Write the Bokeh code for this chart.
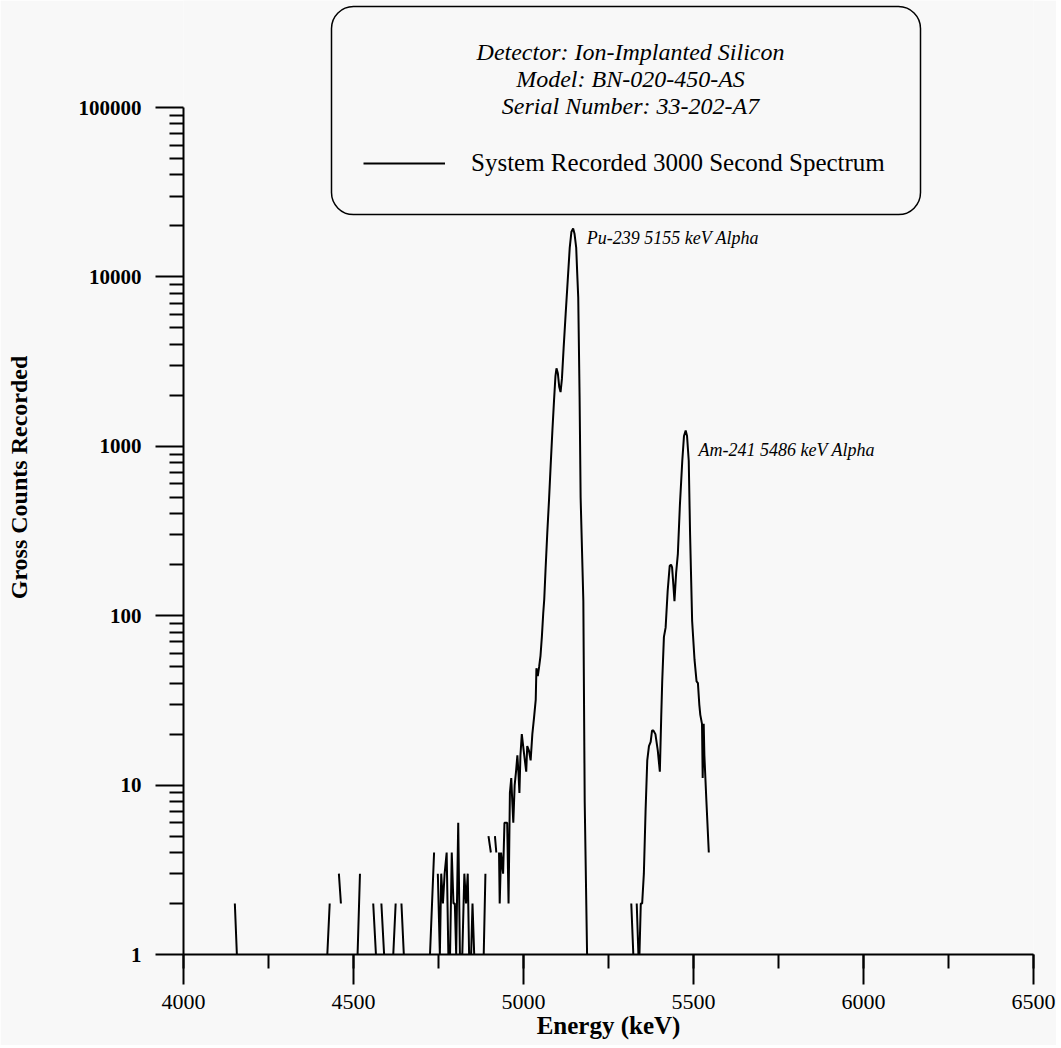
from bokeh.plotting import figure
from bokeh.models import (SingleIntervalTicker, FixedTicker, BasicTickFormatter,
                          BoxAnnotation, Label, Legend, LegendItem)
from bokeh.embed import file_html
from bokeh.resources import INLINE

# ---------------- data ----------------
energy_kev = [
    4151, 4157, 4163,
    4423, 4430, 4436,
    4457, 4463, 4469,
    4512, 4519, 4525,
    4558, 4566, 4572,
    4582, 4590, 4596,
    4617, 4624, 4630,
    4641, 4648, 4654,
    4725, 4737, 4742,
    4748, 4754, 4758, 4763, 4768, 4774, 4779, 4784, 4789, 4794, 4798, 4802,
    4808, 4813, 4820, 4826, 4831, 4836, 4840, 4846, 4850, 4855, 4860,
    4883, 4888, 4893,
    4897, 4904, 4909,
    4916, 4920, 4924,
    4928, 4930, 4934, 4940, 4944, 4952, 4956, 4960, 4964, 4967, 4970, 4974,
    4978, 4982, 4985, 4988, 4991, 4995, 4999, 5004, 5008, 5011, 5016, 5021,
    5026, 5031, 5036, 5038, 5042, 5046, 5050, 5054, 5058, 5061, 5065, 5070,
    5075, 5080, 5085, 5090, 5094, 5097, 5101, 5105, 5109, 5113, 5118, 5124,
    5130, 5136, 5141, 5146, 5150, 5155, 5158, 5161, 5165, 5168, 5176, 5180,
    5187, 5193,
    5317, 5323, 5328,
    5333, 5338, 5341, 5345, 5349, 5354, 5359, 5364, 5369, 5374, 5378, 5382,
    5388, 5395, 5401, 5405, 5408, 5413, 5418, 5424, 5430, 5434, 5437, 5441,
    5444, 5449, 5454, 5460, 5467, 5472, 5477, 5481, 5486, 5490, 5496, 5503,
    5509, 5513, 5517, 5520, 5525, 5527, 5530, 5532, 5538, 5545,
]
gross_counts = [
    2, 1, 0,
    1, 2, 0,
    3, 2, 0,
    1, 3, 0,
    2, 1, 0,
    2, 1, 0,
    1, 2, 0,
    2, 1, 0,
    1, 4, 0,
    3, 1, 3, 2, 3, 4, 1, 1, 4, 2, 2, 1,
    6, 1, 1, 3, 2, 3, 1, 1, 2, 1, 0,
    1, 3, 0,
    5, 4, 0,
    5, 4, 0,
    4, 2, 4, 3, 6, 6, 2, 9, 11, 8, 6, 10,
    12, 15, 12, 9, 15, 20, 17, 14, 12, 17, 16, 14,
    20, 25, 32, 49, 44, 50, 58, 75, 103, 125, 190, 310,
    480, 780, 1240, 1900, 2600, 2890, 2700, 2250, 2090, 2500, 3800, 6050,
    9500, 14900, 18500, 19300, 18000, 14900, 10500, 7550, 1940, 500, 122, 8,
    1, 0,
    2, 1, 0,
    2, 1, 1, 2, 2, 3, 7, 14, 17, 18, 21, 21,
    20, 16, 12, 25, 41, 75, 85, 140, 197, 200, 193, 150,
    122, 180, 232, 450, 822, 1150, 1240, 1150, 822, 300, 93, 55,
    41, 40, 30, 26, 23, 11, 23, 15, 8, 4,
]

x_tick_labels = ["4000", "4500", "5000", "5500", "6000", "6500"]
y_tick_values = [1, 10, 100, 1000, 10000, 100000]
y_tick_labels = ["1", "10", "100", "1000", "10000", "100000"]

legend_title_lines = ["Detector: Ion-Implanted Silicon",
                      "Model: BN-020-450-AS",
                      "Serial Number: 33-202-A7"]
series_name = "System Recorded 3000 Second Spectrum"
peak_labels = ["Pu-239 5155 keV Alpha", "Am-241 5486 keV Alpha"]
peak_label_energy = [5186, 5515]

# ---------------- layout helpers ----------------
FRAME_LEFT = 183
PX_PER_KEV = 850 / 2500.0
DECADE_PX = 169.3
Y1_PX = 953.5
Y_TOP_LOG = Y1_PX / DECADE_PX


def e_at(px):
    return 4000 + (px - FRAME_LEFT) / PX_PER_KEV


def c_at(py):
    return 10 ** ((Y1_PX - py) / DECADE_PX)


FONT = "Liberation Serif"

p = figure(width=1056, height=1045,
           x_range=(4000, 6500), y_range=(1, 10 ** Y_TOP_LOG),
           y_axis_type="log",
           min_border_left=FRAME_LEFT, min_border_right=23,
           min_border_top=0, min_border_bottom=91,
           output_backend="svg", toolbar_location=None)

p.background_fill_color = "#f8f8f8"
p.border_fill_color = "#f8f8f8"
p.outline_line_color = None
p.xgrid.visible = False
p.ygrid.visible = False

y_plot = [c if c > 0 else float("nan") for c in gross_counts]
spec = p.line(energy_kev, y_plot, line_color="black", line_width=2)

# x axis
xa = p.xaxis[0]
xa.ticker = SingleIntervalTicker(interval=500, num_minor_ticks=2)
xa.major_label_overrides = {int(t): t for t in x_tick_labels}
xa.axis_line_width = 2
xa.axis_line_color = "black"
xa.major_tick_line_width = 2
xa.minor_tick_line_width = 2
xa.major_tick_in = 0
xa.major_tick_out = 30
xa.minor_tick_in = 0
xa.minor_tick_out = 14
xa.major_label_standoff = 10
xa.major_label_text_font = FONT
xa.major_label_text_font_size = "22px"
xa.major_label_text_color = "black"
xa.axis_label = "Energy (keV)"
xa.axis_label_text_font = FONT
xa.axis_label_text_font_style = "bold"
xa.axis_label_text_font_size = "25px"
xa.axis_label_text_color = "black"
xa.axis_label_standoff = 0

# y axis
minor = [m * 10 ** k for k in range(5) for m in range(2, 10)]
ya = p.yaxis[0]
ya.ticker = FixedTicker(ticks=y_tick_values, minor_ticks=minor)
ya.formatter = BasicTickFormatter(use_scientific=False)
ya.major_label_overrides = dict(zip(y_tick_values, y_tick_labels))
ya.bounds = (1, 100000)
ya.axis_line_width = 2
ya.axis_line_color = "black"
ya.major_tick_line_width = 2
ya.minor_tick_line_width = 2
ya.major_tick_in = 0
ya.major_tick_out = 28
ya.minor_tick_in = 0
ya.minor_tick_out = 14
ya.major_label_standoff = 14
ya.major_label_text_font = FONT
ya.major_label_text_font_style = "bold"
ya.major_label_text_font_size = "21px"
ya.major_label_text_color = "black"
ya.axis_label = "Gross Counts Recorded"
ya.axis_label_text_font = FONT
ya.axis_label_text_font_style = "bold"
ya.axis_label_text_font_size = "24px"
ya.axis_label_text_color = "black"
ya.axis_label_standoff = 44

# legend box (rounded)
box = BoxAnnotation(left=e_at(331), right=e_at(920), top=c_at(6), bottom=c_at(214),
                    fill_alpha=0, line_color="black", line_alpha=1.0,
                    line_width=1.5, border_radius=22)
p.add_layout(box)

for txt, py in zip(legend_title_lines, [51, 78, 105]):
    p.add_layout(Label(x=e_at(630), y=c_at(py), text=txt, text_align="center",
                       text_baseline="middle", text_font=FONT,
                       text_font_style="italic", text_font_size="24px",
                       text_color="black"))

legend = Legend(items=[LegendItem(label=series_name, renderers=[spec])],
                location=(180, Y1_PX - 164 - 12), glyph_width=82, glyph_height=24,
                label_standoff=26, padding=0, margin=0, spacing=0,
                label_text_font=FONT, label_text_font_size="25px",
                label_text_color="black",
                border_line_color=None, background_fill_alpha=0)
p.add_layout(legend)

# peak annotations
for txt, ex, py in zip(peak_labels, peak_label_energy, [237, 449]):
    p.add_layout(Label(x=ex, y=c_at(py), text=txt, text_align="left",
                       text_baseline="middle", text_font=FONT,
                       text_font_style="italic", text_font_size="18px",
                       text_color="black"))

open("out.html", "w").write(file_html(p, INLINE))
